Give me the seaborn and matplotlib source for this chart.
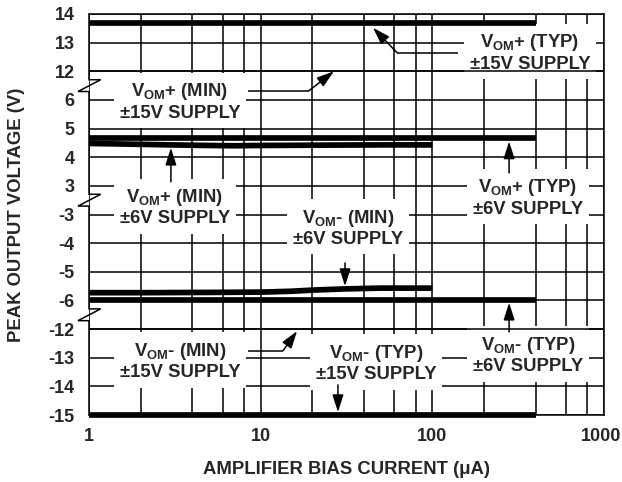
import numpy as np
import pandas as pd
import matplotlib
matplotlib.use("Agg")
import matplotlib.pyplot as plt
import matplotlib.transforms as mtransforms
import seaborn as sns

# ---------------- data ----------------
x_ticks = [1, 10, 100, 1000]
x_tick_labels = ["1", "10", "100", "1000"]
x_grid_minor = [2, 4, 6, 8, 20, 40, 60, 80, 200, 400, 600, 800]
y_ticks = [14, 13, 12, 6, 5, 4, 3, -3, -4, -5, -6, -12, -13, -14, -15]
y_tick_labels = [str(v) for v in y_ticks]

typ_x = [1, 400]
vom_pos_typ_15 = [13.67, 13.67]
vom_pos_typ_6 = [4.67, 4.67]
vom_neg_typ_6 = [-5.97, -5.97]
vom_neg_typ_15 = [-15.0, -15.0]

min15_x = [1, 1000]
vom_pos_min_15 = [12.0, 12.0]
vom_neg_min_15 = [-12.0, -12.0]

min6p_x = [1, 2, 3, 5, 7, 10, 20, 50, 100]
vom_pos_min_6 = [4.48, 4.45, 4.43, 4.41, 4.40, 4.41, 4.42, 4.43, 4.43]
min6n_x = [1, 2, 5, 10, 15, 20, 30, 50, 100]
vom_neg_min_6 = [-5.73, -5.73, -5.72, -5.71, -5.68, -5.64, -5.60, -5.57, -5.57]

# ---------------- style ----------------
sns.set_style("white")
plt.rcParams["font.family"] = ["Liberation Sans", "DejaVu Sans"]
plt.rcParams["font.weight"] = "bold"
plt.rcParams["mathtext.fontset"] = "custom"
plt.rcParams["mathtext.rm"] = "Liberation Sans:bold"
plt.rcParams["mathtext.it"] = "Liberation Sans:bold"
plt.rcParams["mathtext.bf"] = "Liberation Sans:bold"

FS = 13
FS_LAB = 13.3
GRID_LW = 1.1
THICK = 4.1

fig = plt.figure(figsize=(6.22, 4.82), dpi=100)
ax = fig.add_axes([89 / 622, 1 - 415 / 482, (604 - 89) / 622, (415 - 14) / 482])

# broken (piecewise) y scale
_v = np.array([-1015, -15, -12, -6, -3, 3, 6, 12, 14, 1014], float)
_p = np.array([-1000, 0, 3, 4, 7, 8, 11, 12, 14, 1014], float)


def fwd(v):
    return np.interp(np.asarray(v, float), _v, _p)


def inv(p):
    return np.interp(np.asarray(p, float), _p, _v)


ax.set_xscale("log")
ax.set_yscale("function", functions=(fwd, inv))
ax.set_xlim(1, 1000)
ax.set_ylim(-15, 14)


def Y(p):
    """layout slot (0..14) -> voltage on the broken scale"""
    return float(inv(p))


# ---------------- data lines ----------------
series = [
    (typ_x, vom_pos_typ_15, THICK),
    (typ_x, vom_pos_typ_6, THICK),
    (typ_x, vom_neg_typ_6, THICK),
    (typ_x, vom_neg_typ_15, THICK),
    (min6p_x, vom_pos_min_6, THICK),
    (min6n_x, vom_neg_min_6, THICK),
    (min15_x, vom_pos_min_15, GRID_LW),
    (min15_x, vom_neg_min_15, GRID_LW),
]
for xs, ys, lw in series:
    df = pd.DataFrame({"x": xs, "y": ys})
    sns.lineplot(data=df, x="x", y="y", ax=ax, color="black", linewidth=lw,
                 estimator=None, sort=False, zorder=4)
for ln in ax.lines:
    ln.set_solid_capstyle("butt")
    ln.set_clip_on(False)

# ---------------- axes / grid ----------------
ax.set_xticks(x_ticks)
ax.set_xticklabels(x_tick_labels)
ax.set_xticks(x_grid_minor, minor=True)
ax.set_yticks(y_ticks)
ax.set_yticklabels(y_tick_labels)
ax.yaxis.set_minor_locator(matplotlib.ticker.NullLocator())
ax.tick_params(axis="both", which="both", length=0, labelsize=FS)
ax.tick_params(axis="x", pad=9.5)
ax.tick_params(axis="y", pad=10.5)
for lab in ax.get_xticklabels() + ax.get_yticklabels():
    lab.set_fontweight("bold")
# keep the last x label inside the canvas
last = ax.get_xticklabels()[-1]
last.set_transform(last.get_transform() +
                   mtransforms.ScaledTranslation(-3 / 100, 0, fig.dpi_scale_trans))
ax.grid(True, which="both", axis="x", color="black", linewidth=GRID_LW)
ax.grid(True, which="major", axis="y", color="black", linewidth=GRID_LW)
ax.set_axisbelow(True)

for side in ["top", "right", "bottom"]:
    ax.spines[side].set_color("black")
    ax.spines[side].set_linewidth(GRID_LW)
    ax.spines[side].set_zorder(6)
ax.spines["left"].set_visible(False)

# left spine with break marks
h = 0.206 / 14
dx1, dx2 = 11.7 / 515, 11.0 / 515
pts = [(0, 1.0)]
for c in [11.5, 7.5, 3.5]:
    f = c / 14
    pts += [(0, f + h), (dx1, f + h), (-dx2, f - h), (0, f - h)]
pts += [(0, 0.0)]
ax.plot([p[0] for p in pts], [p[1] for p in pts], transform=ax.transAxes,
        color="black", lw=GRID_LW, clip_on=False, zorder=6,
        solid_joinstyle="miter")

ax.set_xlabel("AMPLIFIER BIAS CURRENT (\u03bcA)", fontsize=FS_LAB, fontweight="bold")
ax.set_ylabel("PEAK OUTPUT VOLTAGE (V)", fontsize=FS_LAB, fontweight="bold")
ax.xaxis.set_label_coords(0.5, -0.1147)
ax.yaxis.set_label_coords(-0.124, 0.5)

# ---------------- annotations ----------------
box = dict(boxstyle="square,pad=0.33", fc="white", ec="none")
texts = [
    (3.39, 10.96, "V$_{\\rm OM}$+ (MIN)\n\u00b115V SUPPLY"),
    (371, 12.67, "V$_{\\rm OM}$+ (TYP)\n\u00b115V SUPPLY"),
    (3.17, 7.26, "V$_{\\rm OM}$+ (MIN)\n\u00b16V SUPPLY"),
    (32.3, 6.53, "V$_{\\rm OM}$- (MIN)\n\u00b16V SUPPLY"),
    (361, 7.58, "V$_{\\rm OM}$+ (TYP)\n\u00b16V SUPPLY"),
    (3.39, 1.885, "V$_{\\rm OM}$- (MIN)\n\u00b115V SUPPLY"),
    (47, 1.816, "V$_{\\rm OM}$- (TYP)\n\u00b115V SUPPLY"),
    (361, 2.095, "V$_{\\rm OM}$- (TYP)\n\u00b16V SUPPLY"),
]
for x, p, s in texts:
    ax.text(x, Y(p), s, ha="center", va="center", fontsize=FS_LAB,
            fontweight="bold", linespacing=1.22, bbox=box, zorder=3)

# arrows: list of polyline points (x, slot); last point is the tip
arrows = [
    [(8.44, 11.32), (19.1, 11.32), (26.7, 12.0)],
    [(141, 12.65), (62.3, 12.65), (45.1, 13.52)],
    [(3.0, 8.14), (3.0, 9.33)],
    [(31, 5.31), (31, 4.50)],
    [(280, 8.45), (280, 9.55)],
    [(8.44, 2.245), (13.5, 2.245), (16.3, 2.93)],
    [(28.2, 1.05), (28.2, 0.10)],
    [(280, 2.90), (280, 3.92)],
]
for pts_ in arrows:
    if len(pts_) > 2:
        ax.plot([q[0] for q in pts_[:-1]], [Y(q[1]) for q in pts_[:-1]],
                color="black", lw=GRID_LW, zorder=5, solid_capstyle="butt")
    a, b = pts_[-2], pts_[-1]
    ax.annotate("", xy=(b[0], Y(b[1])), xytext=(a[0], Y(a[1])),
                arrowprops=dict(arrowstyle="-|>,head_length=0.75,head_width=0.24",
                                mutation_scale=14, color="black", lw=GRID_LW,
                                shrinkA=0, shrinkB=0),
                zorder=5)

fig.savefig("out.png", dpi=100)
